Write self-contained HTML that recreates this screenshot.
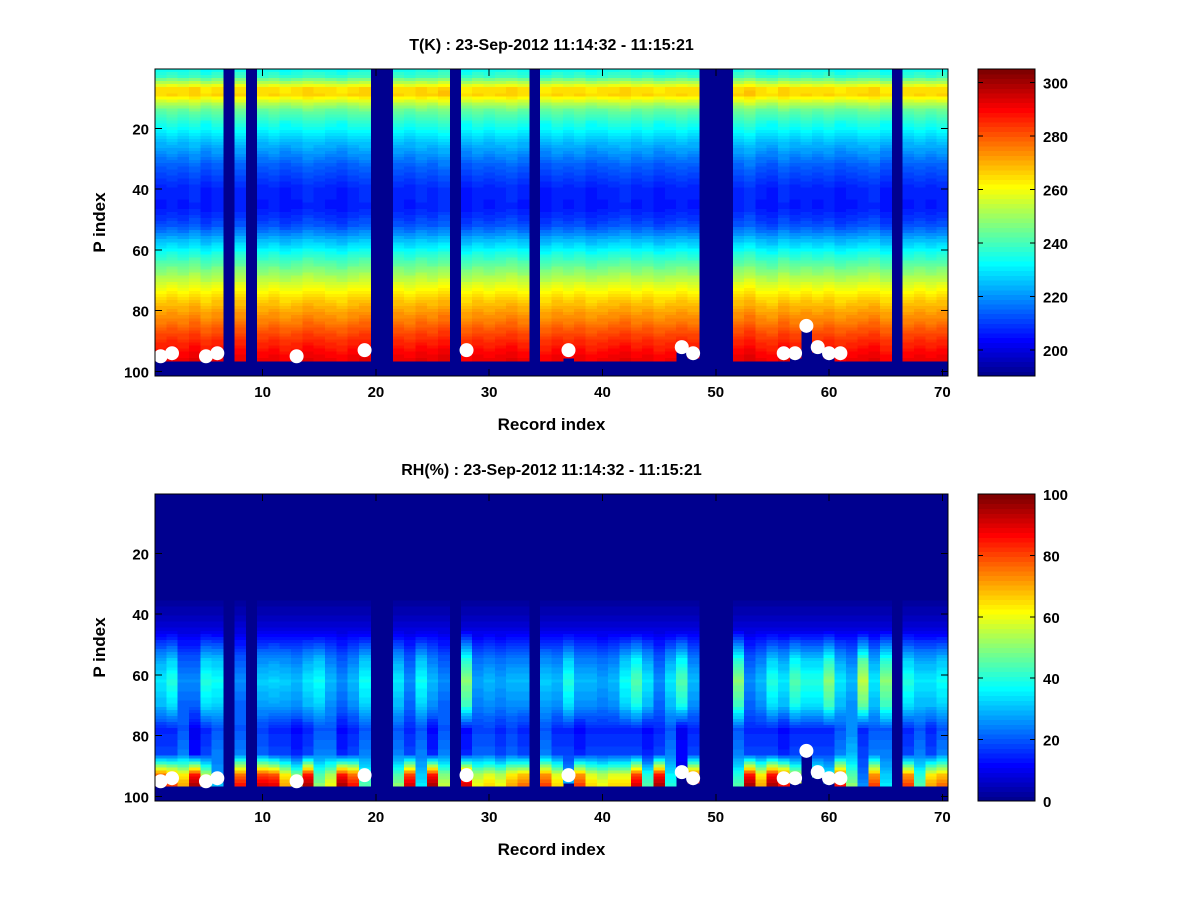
<!DOCTYPE html>
<html><head><meta charset="utf-8"><style>
body{margin:0;background:#fff;width:1200px;height:900px;overflow:hidden}
svg{font-family:"Liberation Sans",sans-serif;font-weight:bold}
</style></head><body>
<svg id="fig" width="1200" height="900" viewBox="0 0 1200 900" xmlns="http://www.w3.org/2000/svg" shape-rendering="crispEdges"></svg>
<script>
// ---- data ----
const records = Array.from({length:70},(_,i)=>i+1);
const missingRecords = [7,9,20,21,27,34,49,50,51,66];
const tempProfileRows = [1,3,5,7,9,11,14,18,25,33,40,46,52,60,66,72,76,81,88,92,96];
const tempProfileVals = [234,238,252,264,265,256,244,236,224,213,207,206,212,232,245,258,265,272,282,287,291];
const tempColOffset = [0,1,0,2,-1,1,0,1,0,0,1,-1,0,2,1,0,-1,1,2,0,0,1,0,2,1,3,0,-1,1,0,1,2,0,0,-1,1,0,1,-1,0,1,2,0,1,-1,0,1,0,0,0,0,1,3,0,-1,2,0,1,0,1,-1,0,1,2,-1,0,0,1,0,1];
const dotRecords = [1,2,5,6,13,19,28,37,47,48,56,57,58,59,60,61];
const dotPIndex = [95,94,95,94,95,93,93,93,92,94,94,94,85,92,94,94];
const surfaceRecords = [37,47,48,57,58,59,60];
const surfaceRows = [95,93,95,95,85,93,95];
const rhMid = [35,40,25,25,40,38,0,25,0,32,33,32,30,35,38,30,25,30,38,0,0,35,25,38,30,25,0,50,28,30,28,30,30,0,32,30,40,30,30,28,30,38,45,35,25,35,45,30,0,0,0,50,25,30,40,35,45,40,40,50,35,30,55,35,50,0,40,35,35,38];
const rhLow = [15,15,20,10,15,20,0,20,0,18,15,15,12,15,20,20,12,15,20,0,0,20,15,20,12,20,0,12,18,18,15,18,15,0,20,15,15,12,15,15,15,15,15,12,15,20,10,15,0,0,0,20,15,15,15,12,15,15,15,15,20,25,15,20,20,0,15,20,15,20];
const rhSurf = [85,80,70,95,60,30,0,85,0,90,88,70,55,95,50,60,95,85,45,0,0,50,90,35,95,55,0,90,60,65,60,70,75,0,80,65,30,80,65,60,65,65,90,45,95,40,10,85,0,0,0,45,95,70,95,85,60,15,50,40,85,50,25,80,35,0,80,45,70,75];
const tTicks=[20,40,60,80,100], xTicks=[10,20,30,40,50,60,70];
const tCbTicks=[200,220,240,260,280,300], rhCbTicks=[0,20,40,60,80,100];
const tClim=[190.3,305], rhClim=[0,100];
const NROWS=101;
// ---- helpers ----
const NS="http://www.w3.org/2000/svg", fig=document.getElementById('fig');
function el(t,a,p){const e=document.createElementNS(NS,t);for(const k in a)e.setAttribute(k,a[k]);(p||fig).appendChild(e);return e;}
function jet(v,lo,hi){let f=(v-lo)/(hi-lo);let i=Math.floor(f*64);i=Math.max(0,Math.min(63,i));const x=(i+1)/64;
 const c=q=>Math.round(255*Math.max(0,Math.min(1,1.5-Math.abs(4*x-q))));return `rgb(${c(3)},${c(2)},${c(1)})`;}
function interp(xs,ys,x){if(x<=xs[0])return ys[0];for(let i=1;i<xs.length;i++){if(x<=xs[i]){const t=(x-xs[i-1])/(xs[i]-xs[i-1]);return ys[i-1]+t*(ys[i]-ys[i-1]);}}return ys[ys.length-1];}
function surf(r){const i=surfaceRecords.indexOf(r);return i>=0?surfaceRows[i]:96;}
function tempVal(r,row){if(missingRecords.includes(r)||row>surf(r))return null;return interp(tempProfileRows,tempProfileVals,row)+tempColOffset[r-1];}
function rhVal(r,row){if(missingRecords.includes(r)||row>surf(r))return null;const i=r-1,m=rhMid[i],l=rhLow[i],s=rhSurf[i];
 return Math.max(0,interp([33,45,55,62,70,78,86,90,93,96],[0,8,m*0.8,m,m*0.85,l,l*1.2,(l+s)/2,s*0.9,s],row));}
function panel(top,title,valFn,clim,cbTicks,name){
 const L=155,R=948,T=top,B=top+307;
 const sx=x=>L+(x-0.5)*(R-L)/70, sy=y=>T+(y-0.5)*(B-T)/NROWS;
 const g=el('g',{});
 const hm=el('g',{},g);
 el('rect',{x:L,y:T,width:R-L,height:B-T,fill:jet(clim[0],clim[0],clim[1])},hm);
 for(const r of records){for(let row=1;row<=NROWS;row++){const v=valFn(r,row);if(v===null)continue;
  const c=el('rect',{x:sx(r-0.5).toFixed(2),y:sy(row-0.5).toFixed(2),width:(sx(r+0.5)-sx(r-0.5)+0.6).toFixed(2),height:(sy(row+0.5)-sy(row-0.5)+0.6).toFixed(2),fill:jet(v,clim[0],clim[1])},hm);
  
  }}
 for(let k=0;k<dotRecords.length;k++){const d=el('circle',{cx:sx(dotRecords[k]),cy:sy(dotPIndex[k]),r:7,fill:'#fff','shape-rendering':'auto'},g);
  
  }
 el('rect',{x:L,y:T,width:R-L,height:B-T,fill:'none',stroke:'#000','stroke-width':1},g);
 for(const t of xTicks){const x=sx(t);el('line',{x1:x,y1:B,x2:x,y2:B-7,stroke:'#000'},g);el('line',{x1:x,y1:T,x2:x,y2:T+7,stroke:'#000'},g);
  const tx=el('text',{x:x,y:B+21,'font-size':15,'text-anchor':'middle'},g);tx.textContent=t;
  
  }
 for(const t of tTicks){const y=sy(t);el('line',{x1:L,y1:y,x2:L+7,y2:y,stroke:'#000'},g);el('line',{x1:R,y1:y,x2:R-7,y2:y,stroke:'#000'},g);
  const tx=el('text',{x:L-6,y:y+6,'font-size':15,'text-anchor':'end'},g);tx.textContent=t;
  
  }
 const ti=el('text',{x:(L+R)/2,y:T-19,'font-size':16,'text-anchor':'middle'},g);ti.textContent=title;
 
 const xl=el('text',{x:(L+R)/2,y:B+54,'font-size':17,'text-anchor':'middle'},g);xl.textContent='Record index';
 
 const yl=el('text',{x:0,y:0,'font-size':17,'text-anchor':'middle',transform:`translate(105,${(T+B)/2}) rotate(-90)`},g);yl.textContent='P index';
 
 // colorbar
 const cb=el('g',{},g);
 const CL=978,CR=1035,h=(B-T)/64;
 for(let i=0;i<64;i++){const v=clim[0]+(i+0.5)/64*(clim[1]-clim[0]);el('rect',{x:CL,y:(B-(i+1)*h).toFixed(2),width:CR-CL,height:(h+0.6).toFixed(2),fill:jet(v,clim[0],clim[1])},cb);}
 el('rect',{x:CL,y:T,width:CR-CL,height:B-T,fill:'none',stroke:'#000'},cb);
 for(const t of cbTicks){const y=B-(t-clim[0])/(clim[1]-clim[0])*(B-T);el('line',{x1:CR,y1:y,x2:CR-5,y2:y,stroke:'#000'},cb);el('line',{x1:CL,y1:y,x2:CL+5,y2:y,stroke:'#000'},cb);
  const tx=el('text',{x:CR+8,y:y+6,'font-size':15},cb);tx.textContent=t;
  
  }
}
panel(69,'T(K) : 23-Sep-2012 11:14:32 - 11:15:21',tempVal,tClim,tCbTicks,'temperature');
panel(494,'RH(%) : 23-Sep-2012 11:14:32 - 11:15:21',rhVal,rhClim,rhCbTicks,'humidity');
</script>
</body></html>
